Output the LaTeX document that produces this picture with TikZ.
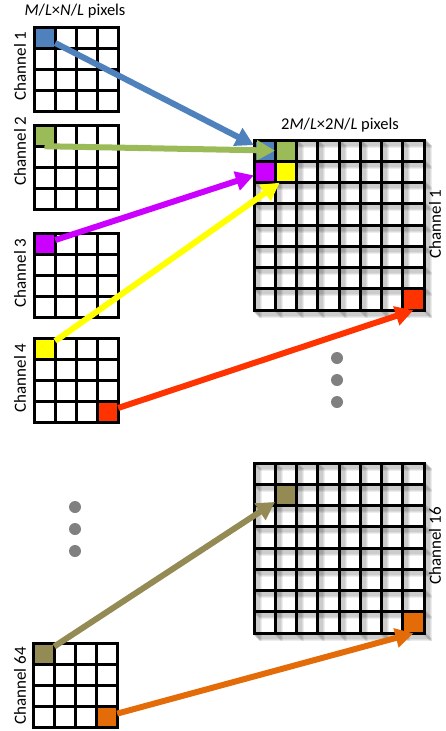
\documentclass[tikz,border=0pt]{standalone}
\usepackage{fontspec}
\setmainfont{Carlito}
\usetikzlibrary{arrows.meta}
\definecolor{cblue}{HTML}{4F81BD}
\definecolor{cgreen}{HTML}{9BBB59}
\definecolor{cmag}{HTML}{CC00FF}
\definecolor{cyel}{HTML}{FFFF00}
\definecolor{cred}{HTML}{FF3300}
\definecolor{colive}{HTML}{948A54}
\definecolor{corange}{HTML}{E36C09}
\definecolor{cdot}{HTML}{808080}
\begin{document}
\begin{tikzpicture}[x=1pt,y=-1pt,
  gl/.style={line width=3pt, line cap=rect, black},
  shl/.style={line width=3pt, line cap=rect, black, opacity=0.07},
  scell/.style={draw=none, inner sep=0pt, minimum size=21pt},
  bcell/.style={draw=none, inner sep=0pt, minimum size=21.25pt},
  arr/.style={line width=6pt, -{Triangle[length=18pt,width=19pt]}},
  lbl/.style={rotate=90, inner sep=0pt, font=\fontsize{17}{20}\selectfont},
  ttl/.style={font=\fontsize{16.5}{19}\selectfont},
  gdot/.style={circle, fill=cdot, minimum size=12pt, inner sep=0pt}]
\useasboundingbox (0,0) rectangle (445,731);

% small grids: white background
\foreach \gx/\gy in {34/27,34/125,34/233,34/338,33/643}
  \fill[white] (\gx,\gy) rectangle ++(84,84);

% big grids: white background and soft shadows
\foreach \gy in {140,463} {
  \fill[white] (254,\gy) rectangle ++(170,170);
  \foreach \s in {1,2,3,4,5,6} {
    \foreach \i in {0,...,8} {
      \draw[shl] (254+21.25*\i+\s, \gy+\s) -- ++(0,170);
      \draw[shl] (254+\s, \gy+21.25*\i+\s) -- ++(170,0);
    }
  }
}

% coloured cells, small grids
\node[scell, fill=cblue]   (s1)  at (44.5,37.5) {};
\node[scell, fill=cgreen]  (s2)  at (44.5,135.5) {};
\node[scell, fill=cmag]    (s3)  at (44.5,243.5) {};
\node[scell, fill=cyel]    (s4a) at (44.5,348.5) {};
\node[scell, fill=cred]    (s4b) at (107.5,411.5) {};
\node[scell, fill=colive]  (s6a) at (43.5,653.5) {};
\node[scell, fill=corange] (s6b) at (106.5,716.5) {};

% coloured cells, big grids
\node[bcell, fill=cblue]   (b00) at (264.625,150.625) {};
\node[bcell, fill=cgreen]  (b10) at (285.875,150.625) {};
\node[bcell, fill=cmag]    (b01) at (264.625,171.875) {};
\node[bcell, fill=cyel]    (b11) at (285.875,171.875) {};
\node[bcell, fill=cred]    (b77) at (413.375,299.375) {};
\node[bcell, fill=colive]  (c11) at (285.875,494.875) {};
\node[bcell, fill=corange] (c77) at (413.375,622.375) {};

% grid lines
\foreach \gx/\gy in {34/27,34/125,34/233,34/338,33/643}
  \foreach \i in {0,...,4} {
    \draw[gl] (\gx+21*\i, \gy) -- ++(0,84);
    \draw[gl] (\gx, \gy+21*\i) -- ++(84,0);
  }
\foreach \gy in {140,463}
  \foreach \i in {0,...,8} {
    \draw[gl] (254+21.25*\i, \gy) -- ++(0,170);
    \draw[gl] (254, \gy+21.25*\i) -- ++(170,0);
  }

% labels
\node[ttl] (t1) at (75,11) {\textit{M}/\textit{L}×\textit{N}/\textit{L} pixels};
\node[ttl] (t2) at (340,125) {2\textit{M}/\textit{L}×2\textit{N}/\textit{L} pixels};
\node[lbl] (l1) at (20,66) {Channel 1};
\node[lbl] (l2) at (20,151) {Channel 2};
\node[lbl] (l3) at (20,273) {Channel 3};
\node[lbl] (l4) at (20,378) {Channel 4};
\node[lbl] (l64) at (20,686) {Channel 64};
\node[lbl] (r1) at (435,224) {Channel 1};
\node[lbl] (r16) at (435,546) {Channel 16};

% dots
\node[gdot] (d1) at (337,358) {};
\node[gdot] (d2) at (337,380) {};
\node[gdot] (d3) at (337,402) {};
\node[gdot] (e1) at (75,507) {};
\node[gdot] (e2) at (75,529) {};
\node[gdot] (e3) at (75,551) {};

% arrows
\draw[arr, cblue]   (s1) -- (b00);
\draw[arr, cgreen]  (s2.south) -- (b10.west);
\draw[arr, cmag]    (s3) -- (b01);
\draw[arr, cyel]    (s4a) -- (b11.240);
\draw[arr, cred]    (s4b) -- (b77.south);
\draw[arr, colive]  (s6a) -- (c11);
\draw[arr, corange] (s6b) -- (c77.south);
\end{tikzpicture}
\end{document}
